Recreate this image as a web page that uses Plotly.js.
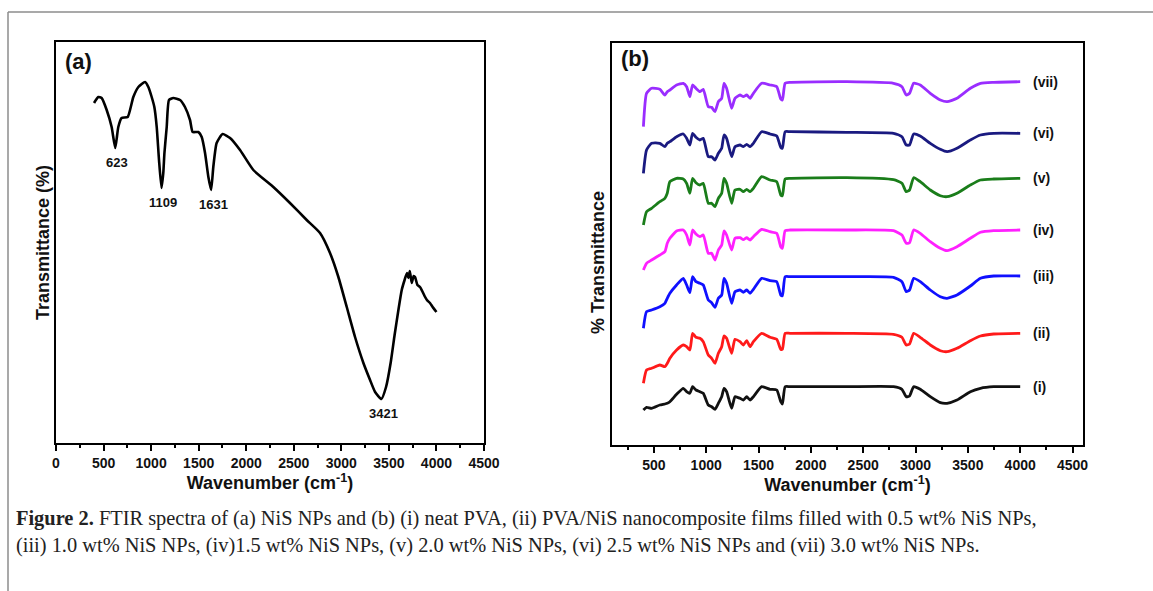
<!DOCTYPE html>
<html>
<head>
<meta charset="utf-8">
<script src="https://cdn.plot.ly/plotly-3.0.1.min.js"></script>
<style>html,body{margin:0;padding:0;background:#fff;}#chart{width:1153px;height:591px;}</style>
</head>
<body>
<div id="chart"></div>
<script>
// ---------- Panel (a): NiS NPs ----------
const wnA = [400,445,480,533,585,623,655,690,754,813,866,936,971,1006,1034,1059,1083,1109,1128,1140,1164,1188,1233,1304,1356,1409,1437,1497,1532,1567,1602,1631,1654,1689,1752,1830,1935,2075,2285,2460,2636,2776,2881,2969,3057,3144,3232,3302,3355,3421,3470,3520,3560,3600,3635,3665,3690,3705,3720,3740,3760,3775,3800,3827,3850,3875,3900,3932,3960,4000];
const tA  = [340,346,345,333,316,295,316,325,326,346,356,361,356,346,336,316,283,255,270,290,316,343,345,343,336,323,311,311,306,290,266,253,276,300,309,305,293,273,256,240,223,210,190,166,136,106,80,63,51,44,56,81,108,133,153,163,170,165,172,160,167,166,158,156,152,147,143,140,136,131];
const peakLabels = ['623','1109','1631','3421'];
const peakWn = [623,1109,1631,3421];

// ---------- Panel (b): PVA / NiS films ----------
const wnB = [400,430,478,557,605,628,653,717,781,813,844,870,902,940,972,1020,1052,1084,1116,1148,1170,1195,1243,1275,1323,1355,1387,1419,1451,1530,1610,1674,1712,1728,1754,1801,2344,2790,2870,2911,2943,2982,3045,3141,3237,3301,3396,3524,3620,3747,4000];
const tB_i   = [35,37.7,36.7,40,41,41.7,43.3,50.7,56.7,53.3,51.7,58.3,55,53.3,51.7,40,38.3,35.7,41.7,48.3,56.7,53.3,36.7,48.3,46.7,45,48.3,45,48.3,58.3,55.7,55,43.3,41,58.3,58.3,58.3,58.3,55.7,48.3,49,58.3,55.7,48.3,42.3,41.7,45,53.3,56.7,58.3,58.3];
const tB_ii  = [61.7,75,76.7,80,78.3,81.7,86.7,95,100,98.3,95,111.7,107.7,106.7,103.3,90,86.7,81.7,91.7,98.3,109,106.7,91.7,105.7,103.3,100,104.3,98.3,103.3,111.7,107.7,105.7,95.7,95.7,111.7,111.7,111.7,110.7,107.7,100,101,111.7,107.7,100,94.3,93.3,96.7,104.3,109,111,111.7];
const tB_iii = [116.7,133.3,135,138.3,141.7,146.7,151.7,160,166.7,160,152.3,168.3,163.3,161.7,160,145,142.3,137.7,146.7,150,166.7,161.7,141.7,153.3,155,152.7,155,151.7,155.7,166.7,164.3,163.3,150,149.3,168.3,168.3,168.3,167.7,163.3,153.3,155,166.7,163.3,155,148.3,146.7,150,159,166.7,169,169];
const tB_iv  = [175,181.7,185,190,193.3,201.7,206.7,214,215,210,200,215,211,208.3,210,191.7,191.7,185,195,200,214,210,195,206.7,207.3,205.3,207.3,205,208.3,215.7,213.3,211.7,198.3,196.7,214.3,215,215,214.3,210,201.7,202.3,215,211.7,203.3,196.7,194.3,198.3,206.7,212.7,214.3,215];
const tB_v   = [220,233.3,236.7,243.3,246.7,251.7,263.3,266.7,266,261.7,251.7,266.7,262.3,260,261.7,241.7,241.7,238.3,246.7,251.7,266.7,261.7,241.7,255,255.7,253.3,255.7,253.3,256.7,268.3,265,263.3,250,249.3,266,266.7,267.3,265.3,261.7,253.3,255,267.3,263.3,255,249.3,248.3,251.7,260,265,266,266.7];
const tB_vi  = [271.7,295,301.7,301.7,298.3,301.7,303.3,308.3,311,306.7,300,311.7,307.7,305,306.7,288.3,288.3,285,291.7,296.7,310,306.7,288.3,298.3,300,298.3,300.7,298.3,301.7,313.3,311,309,297.7,296.7,313.3,313.3,312.7,311.7,308.3,300,300,311,309,301.7,295.7,293.3,296.7,305,310,311.7,311.7];
const tB_vii = [318.3,351.7,356.7,355.7,350,353.3,355,360,361.7,358.3,348.3,360,356.7,353.3,355.7,338.3,337.7,333.3,343.3,346.7,361.7,356.7,336.7,346.7,350,348.3,350,346.7,351.7,361.7,360,358.3,346,345,361.7,362.7,363.3,361.7,358.3,350,351.7,361.7,360,351.7,345,343.3,346.7,356.7,361.7,362.7,363.3];
const seriesB = [tB_i, tB_ii, tB_iii, tB_iv, tB_v, tB_vi, tB_vii];
const seriesNames = ['(i)','(ii)','(iii)','(iv)','(v)','(vi)','(vii)'];

const captionLines = [
  '<b>Figure 2.</b> FTIR spectra of (a) NiS NPs and (b) (i) neat PVA, (ii) PVA/NiS nanocomposite films filled with 0.5 wt% NiS NPs,',
  '(iii) 1.0 wt% NiS NPs, (iv)1.5 wt% NiS NPs, (v) 2.0 wt% NiS NPs, (vi) 2.5 wt% NiS NPs and (vii) 3.0 wt% NiS NPs.'
];

// ---------- styles ----------
const colorsB = ['#111111','#ff1a1a','#1010ff','#ff20ff','#1a7d1a','#1a1a80','#9a2dff'];
const SANS = 'Liberation Sans, Arial, sans-serif';
const SERIF = 'Liberation Serif, Times New Roman, serif';

const traces = [{
  x: wnA, y: tA, xaxis: 'x', yaxis: 'y', mode: 'lines',
  line: {color: '#000', width: 2.6, shape: 'spline', smoothing: 0.5},
  showlegend: false, hoverinfo: 'skip'
}];
seriesB.forEach((s, i) => {
  traces.push({
    x: wnB, y: s, xaxis: 'x2', yaxis: 'y2', mode: 'lines',
    line: {color: colorsB[i], width: 2.8, shape: 'spline', smoothing: 0.5},
    showlegend: false, hoverinfo: 'skip', name: seriesNames[i]
  });
});

const tickFont = {family: SANS, size: 14, color: '#111', weight: 'bold'};
const titleFont = {family: SANS, size: 18, color: '#111', weight: 'bold'};
const xCommon = {
  showline: true, linewidth: 2, linecolor: '#000', mirror: true,
  ticks: 'outside', ticklen: 6, tickwidth: 2, tickcolor: '#000',
  dtick: 500, showgrid: false, zeroline: false, tickfont: tickFont,
  minor: {dtick: 250, ticks: 'outside', ticklen: 3, tickwidth: 2, tickcolor: '#000', showgrid: false}
};
const yCommon = {
  showline: true, linewidth: 2, linecolor: '#000', mirror: true,
  ticks: '', showticklabels: false, showgrid: false, zeroline: false
};

const annotations = [];
peakLabels.forEach((lab, k) => {
  const idx = wnA.indexOf(peakWn[k]);
  annotations.push({xref: 'x', yref: 'y', x: peakWn[k], y: tA[idx], text: lab,
    showarrow: false, yanchor: 'top', xanchor: 'center', yshift: -5, xshift: 2,
    font: {family: SANS, size: 13, color: '#111', weight: 'bold'}});
});
seriesNames.forEach((lab, i) => {
  const s = seriesB[i];
  annotations.push({xref: 'x2', yref: 'y2', x: 4100, y: s[s.length - 1], text: lab,
    showarrow: false, xanchor: 'left', yanchor: 'middle',
    font: {family: SANS, size: 14, color: '#111', weight: 'bold'}});
});
annotations.push({xref: 'paper', yref: 'paper', x: 63/1153, y: 1 - 47/591, xanchor: 'left', yanchor: 'top',
  text: '(a)', showarrow: false, font: {family: SANS, size: 22, color: '#111', weight: 'bold'}});
annotations.push({xref: 'paper', yref: 'paper', x: 619/1153, y: 1 - 44/591, xanchor: 'left', yanchor: 'top',
  text: '(b)', showarrow: false, font: {family: SANS, size: 22, color: '#111', weight: 'bold'}});
annotations.push({xref: 'paper', yref: 'paper', x: 598/1153, y: 1 - 262/591, xanchor: 'center', yanchor: 'middle',
  text: '% Transmittance', textangle: -90, showarrow: false, font: titleFont});
captionLines.forEach((ln, k) => {
  annotations.push({xref: 'paper', yref: 'paper', x: 14/1153, y: 1 - (518 + 27 * k)/591, xanchor: 'left', yanchor: 'middle',
    align: 'left', text: ln, showarrow: false,
    font: {family: SERIF, size: 20.4, color: '#222'}});
});

const layout = {
  width: 1153, height: 591,
  margin: {l: 0, r: 0, t: 0, b: 0},
  paper_bgcolor: '#fff', plot_bgcolor: '#fff',
  showlegend: false,
  xaxis: Object.assign({}, xCommon, {domain: [56/1153, 484/1153], range: [0, 4500], anchor: 'y',
    title: {text: 'Wavenumber (cm<sup>-1</sup>)', font: titleFont, standoff: 1}}),
  yaxis: Object.assign({}, yCommon, {domain: [1 - 443/591, 1 - 42/591], range: [0, 401], anchor: 'x',
    title: {text: 'Transmittance (%)', font: titleFont, standoff: 0}}),
  xaxis2: Object.assign({}, xCommon, {domain: [612/1153, 1083/1153], range: [100, 4600], anchor: 'y2',
    title: {text: 'Wavenumber (cm<sup>-1</sup>)', font: titleFont, standoff: 1}}),
  yaxis2: Object.assign({}, yCommon, {domain: [1 - 445/591, 1 - 43/591], range: [0, 402], anchor: 'x2'}),
  annotations: annotations,
  shapes: [
    {type: 'line', xref: 'paper', yref: 'paper', x0: 8/1153, x1: 1, y0: 1 - 12/591, y1: 1 - 12/591, line: {color: '#8c8c8c', width: 1.5}},
    {type: 'line', xref: 'paper', yref: 'paper', x0: 8/1153, x1: 8/1153, y0: 1 - 12/591, y1: 0, line: {color: '#8c8c8c', width: 1.5}}
  ]
};

Plotly.newPlot('chart', traces, layout, {staticPlot: true, displayModeBar: false});
</script>
</body>
</html>
